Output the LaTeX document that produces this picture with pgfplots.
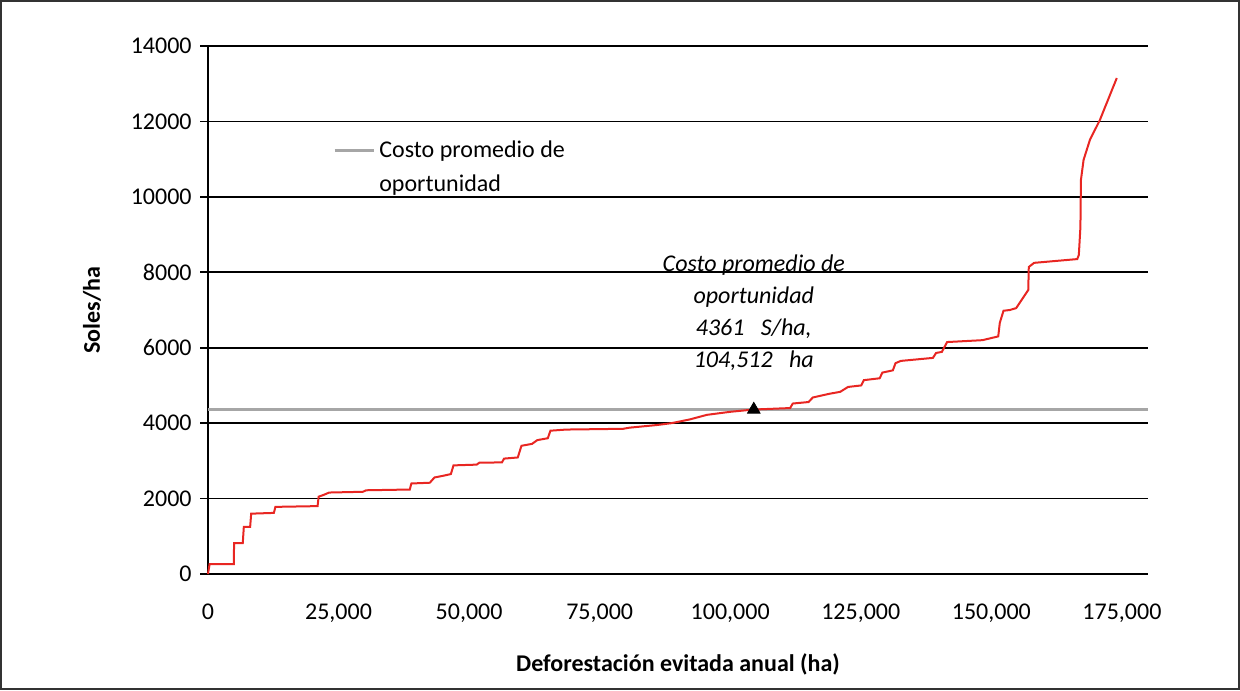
\documentclass[border=0pt]{standalone}
\usepackage{fontspec}
\setmainfont{Carlito}
\usepackage{pgfplots}
\pgfplotsset{compat=1.18}
\definecolor{redline}{RGB}{232,38,34}
\definecolor{grayline}{RGB}{166,166,166}
\begin{document}
\fontsize{12}{14.4}\selectfont
\begin{tikzpicture}
\useasboundingbox (-104pt,-58pt) rectangle (516pt,287pt);
\draw[line width=1pt, black!80] (-103.5pt,-57.5pt) rectangle (515.5pt,286.5pt);
\begin{axis}[
  at={(0pt,0pt)}, anchor=south west,
  scale only axis, width=470pt, height=264pt,
  xmin=0, xmax=180000, ymin=0, ymax=14000,
  axis lines*=left,
  axis line style={black, line width=0.9pt},
  xtick={0,25000,...,175000},
  ytick={0,2000,...,14000},
  scaled x ticks=false, scaled y ticks=false,
  /pgf/number format/assume math mode=true,
  ymajorgrids, grid style={black, line width=0.9pt},
  major x tick style={draw=none},
  tick align=outside, major tick length=4pt,
  major y tick style={black, line width=0.9pt},
  tick label style={font=\fontsize{12}{14}\selectfont},
  xticklabel={\pgfmathprintnumber[fixed,precision=0,1000 sep={,}]{\tick}},
  yticklabel={\pgfmathprintnumber[fixed,precision=0,1000 sep={}]{\tick}},
  xticklabel style={yshift=-7pt},
  xlabel={\bfseries Deforestación evitada anual (ha)},
  xlabel style={at={(axis description cs:0.5,-0.1705)}, anchor=center},
  ylabel={\bfseries Soles/ha},
  ylabel style={at={(axis description cs:-0.1234,0.5)}, anchor=center},
  legend style={draw=none, fill=none, at={(0.128,0.837)}, anchor=north west,
    font=\fontsize{12}{17}\selectfont, inner sep=2pt},
  legend cell align=left,
  legend image code/.code={\draw[#1] (0pt,0pt) -- (19.5pt,0pt);},
  clip=false
]
\addplot[grayline, line width=1.8pt, forget plot] coordinates {(0,4361) (180000,4361)};
\addplot[redline, line width=1pt, forget plot] coordinates {
(0,0) (303,260) (4943,260) (4994,820) (6658,820) (6860,1250) (8070,1250)
(8272,1600) (12610,1620) (12913,1780) (20983,1800) (21185,2050) (22194,2100)
(23202,2160) (29659,2180) (30264,2220) (38637,2240) (38940,2400) (42470,2420)
(43378,2560) (44892,2600) (46506,2650) (47010,2880) (51449,2900) (51953,2950)
(56291,2960) (56695,3060) (59318,3090) (60024,3400) (62041,3450) (63050,3550)
(65068,3600) (65572,3800) (68598,3830) (79493,3850) (80704,3880) (85950,3950)
(88774,4000) (92305,4100) (95533,4220) (99972,4300) (102898,4340) (104512,4361)
(111472,4400) (111977,4520) (115003,4560) (115810,4680) (119038,4780)
(121056,4830) (122569,4960) (125091,5000) (125596,5140) (128622,5190)
(129126,5340) (131144,5400) (131648,5590) (132657,5650) (138811,5730)
(139416,5860) (140526,5890) (141535,6150) (148294,6200) (151320,6300)
(151622,6660) (152329,6980) (153539,7000) (154750,7050) (157070,7530)
(157171,8140) (158180,8250) (166452,8350) (166755,8460) (167057,9200)
(167158,10450) (167663,10980) (168873,11510) (170790,12040) (174018,13150)
};
\addplot[black, only marks, mark=triangle*, mark size=3.6pt, forget plot] coordinates {(104512,4361)};
\addlegendimage{grayline, line width=1.8pt}
\addlegendentry{\parbox[t]{100pt}{Costo promedio de\\oportunidad}}
\node[font=\fontsize{12}{16}\selectfont\itshape, align=center] at (axis cs:104512,6920)
  {Costo promedio de\\oportunidad\\4361\ \ \ S/ha,\\104,512\ \ \ ha};
\end{axis}
\end{tikzpicture}
\end{document}
